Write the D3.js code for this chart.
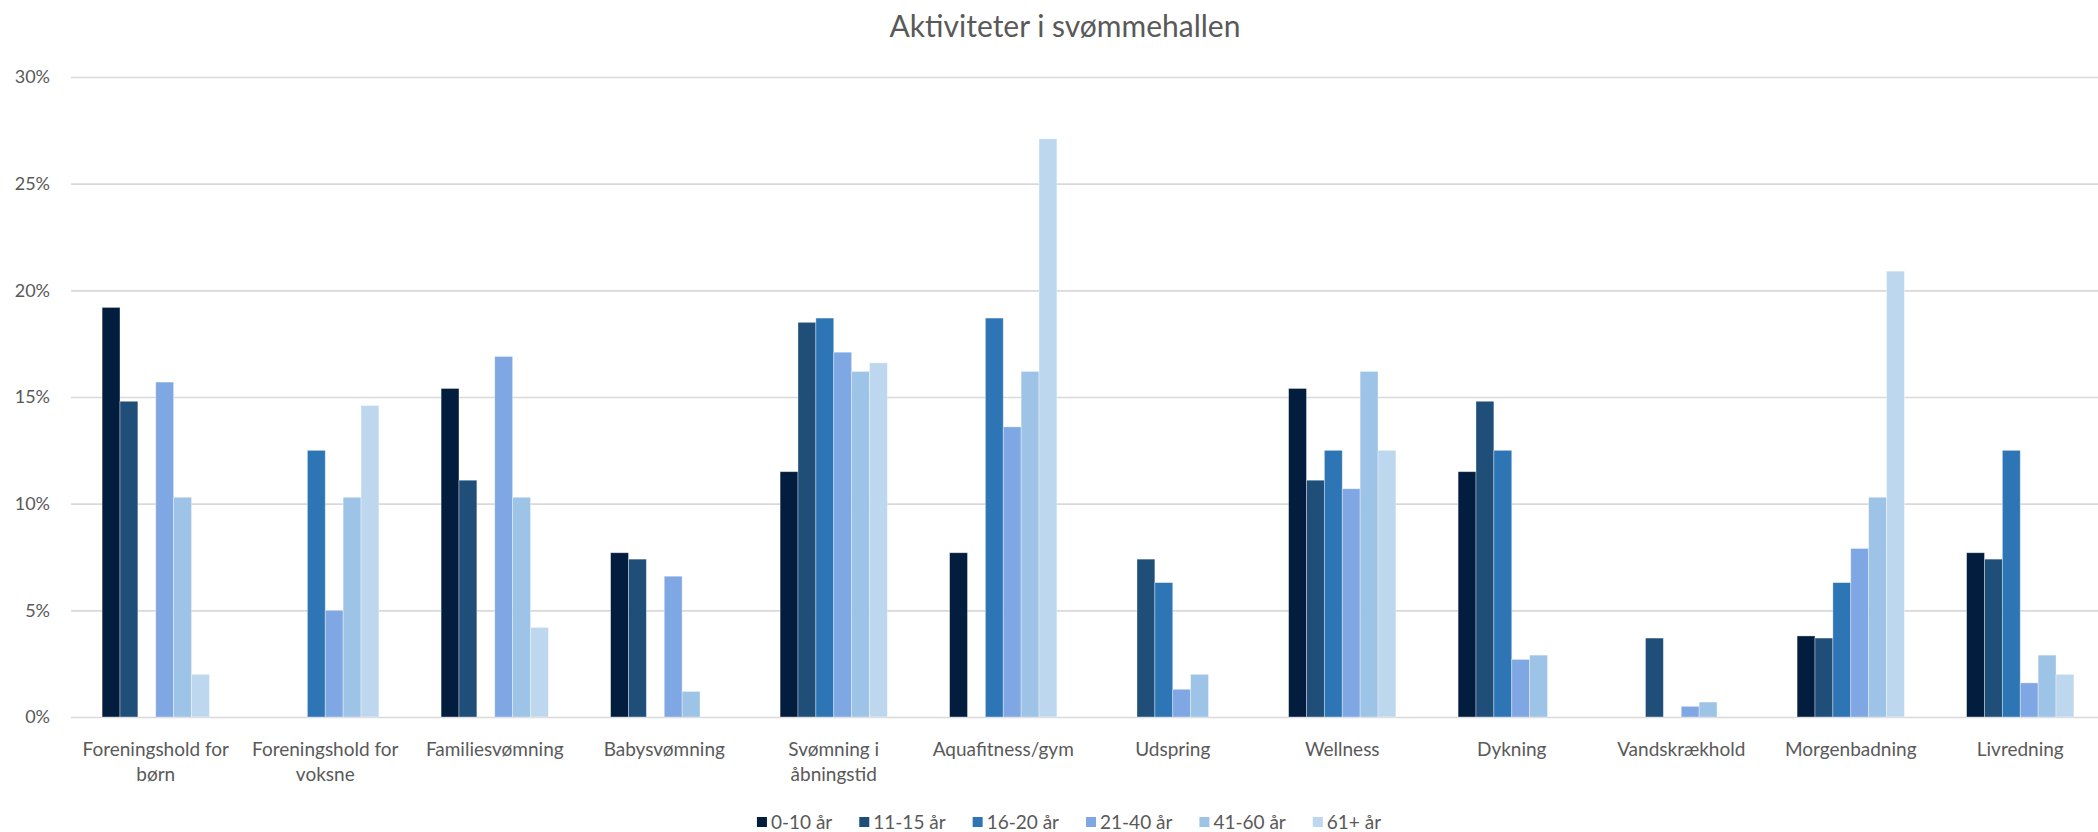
<!DOCTYPE html>
<html>
<head>
<meta charset="utf-8">
<script src="https://cdn.jsdelivr.net/npm/d3@7"></script>
<style>
  body { margin: 0; background: #fff; }
  text { font-family: Lato, "Open Sans", sans-serif; fill: #595959; }
</style>
</head>
<body>
<div id="chart"></div>
<script>
//Data (percent)
const categories = ['Foreningshold for børn', 'Foreningshold for voksne', 'Familiesvømning', 'Babysvømning',
  'Svømning i åbningstid', 'Aquafitness/gym', 'Udspring', 'Wellness', 'Dykning', 'Vandskrækhold',
  'Morgenbadning', 'Livredning'];
const ageGroups = ['0-10 år', '11-15 år', '16-20 år', '21-40 år', '41-60 år', '61+ år'];
const age0_10  = [19.2, 0, 15.4, 7.7, 11.5, 7.7, 0, 15.4, 11.5, 0, 3.8, 7.7];
const age11_15 = [14.8, 0, 11.1, 7.4, 18.5, 0, 7.4, 11.1, 14.8, 3.7, 3.7, 7.4];
const age16_20 = [0, 12.5, 0, 0, 18.7, 18.7, 6.3, 12.5, 12.5, 0, 6.3, 12.5];
const age21_40 = [15.7, 5.0, 16.9, 6.6, 17.1, 13.6, 1.3, 10.7, 2.7, 0.5, 7.9, 1.6];
const age41_60 = [10.3, 10.3, 10.3, 1.2, 16.2, 16.2, 2.0, 16.2, 2.9, 0.7, 10.3, 2.9];
const age61    = [2.0, 14.6, 4.2, 0, 16.6, 27.1, 0, 12.5, 0, 0, 20.9, 2.0];
const yTicks = [0, 5, 10, 15, 20, 25, 30];
const colors = ['#021d3d', '#1f4e79', '#2e75b6', '#7fa7e3', '#9dc3e6', '#bdd7ee'];

const seriesValues = [age0_10, age11_15, age16_20, age21_40, age41_60, age61];
const rows = categories.map((c, i) => ({
  category: c,
  values: ageGroups.map((g, j) => ({group: g, value: seriesValues[j][i]}))
}));

//Set up DOM scaffolding
const width = 2098;
const height = 832;
const margin = {t:77, r:-7, b:115, l:71}; //plot runs past the right edge, as in the reference
const w = width - margin.l - margin.r;
const h = height - margin.t - margin.b;

const svg = d3.select('#chart')
  .append('svg')
  .attr('width', width)
  .attr('height', height);

const plot = svg.append('g')
  .attr('transform', `translate(${margin.l},${margin.t})`);

//Scales
const scaleX0 = d3.scaleBand().domain(categories).range([0, w])
  .paddingInner(0.367).paddingOuter(0.1835);
const scaleX1 = d3.scaleBand().domain(ageGroups).range([0, scaleX0.bandwidth()]);
const scaleY = d3.scaleLinear().domain([0, 30]).range([h, 0]);
const scaleColor = d3.scaleOrdinal().domain(ageGroups).range(colors);

//Gridlines via axis
const axisY = d3.axisLeft(scaleY)
  .tickValues(yTicks)
  .tickSize(-w)
  .tickPadding(21)
  .tickFormat(d => d + '%');

const axisYNode = plot.append('g')
  .attr('class', 'axis-y')
  .call(axisY);
axisYNode.select('.domain').remove();
axisYNode.selectAll('line')
  .style('stroke', '#d9d9d9')
  .style('stroke-width', 1.6);
axisYNode.selectAll('text')
  .style('font-size', '18px')
  .style('fill', '#595959');

//Bars
const groups = plot.selectAll('.group')
  .data(rows)
  .enter()
  .append('g')
  .attr('class', 'group')
  .attr('transform', d => `translate(${scaleX0(d.category)},0)`);

groups.selectAll('rect')
  .data(d => d.values.filter(v => v.value > 0))
  .enter()
  .append('rect')
  .attr('x', d => scaleX1(d.group))
  .attr('width', scaleX1.bandwidth())
  .attr('y', d => scaleY(d.value))
  .attr('height', d => h - scaleY(d.value))
  .style('fill', d => scaleColor(d.group))
  .style('stroke', 'rgba(255,255,255,0.45)')
  .style('stroke-width', 0.8);

//X axis labels
const axisX = d3.axisBottom(scaleX0).tickSize(0).tickPadding(26);
const axisXNode = plot.append('g')
  .attr('class', 'axis-x')
  .attr('transform', `translate(0,${h})`)
  .call(axisX);
axisXNode.select('.domain').remove();
axisXNode.selectAll('text')
  .style('font-size', '19px')
  .style('fill', '#595959')
  .call(wrap, scaleX0.step() - 4);

//Title
svg.append('text')
  .attr('x', 1065)
  .attr('y', 37)
  .attr('text-anchor', 'middle')
  .style('font-size', '30px')
  .text('Aktiviteter i svømmehallen');

//Legend
const legend = svg.append('g').attr('class', 'legend');
const items = legend.selectAll('.item')
  .data(ageGroups)
  .enter()
  .append('g')
  .attr('class', 'item');
items.append('rect')
  .attr('width', 10)
  .attr('height', 10)
  .attr('y', -5)
  .style('fill', d => scaleColor(d));
items.append('text')
  .attr('x', 14)
  .attr('dy', '0.35em')
  .style('font-size', '19px')
  .text(d => d);

let offset = 0;
const gap = 27;
items.each(function(){
  const tw = d3.select(this).select('text').node().getComputedTextLength();
  d3.select(this).attr('transform', `translate(${offset},0)`);
  offset += 14 + tw + gap;
});
const legendW = offset - gap;
legend.attr('transform', `translate(${1069 - legendW/2},822)`);

function wrap(text, width){
  text.each(function(){
    const t = d3.select(this);
    const words = t.text().split(/\s+/).reverse();
    const y = +t.attr('y');
    const lineHeight = 25;
    let line = [];
    let lineNumber = 0;
    let word;
    let tspan = t.text(null).append('tspan').attr('x', 0).attr('y', y).attr('dy', '0.71em');
    while((word = words.pop())){
      line.push(word);
      tspan.text(line.join(' '));
      if(tspan.node().getComputedTextLength() > width && line.length > 1){
        line.pop();
        tspan.text(line.join(' '));
        line = [word];
        lineNumber++;
        tspan = t.append('tspan')
          .attr('x', 0)
          .attr('y', y + lineNumber * lineHeight)
          .attr('dy', '0.71em')
          .text(word);
      }
    }
  });
}
</script>
</body>
</html>
